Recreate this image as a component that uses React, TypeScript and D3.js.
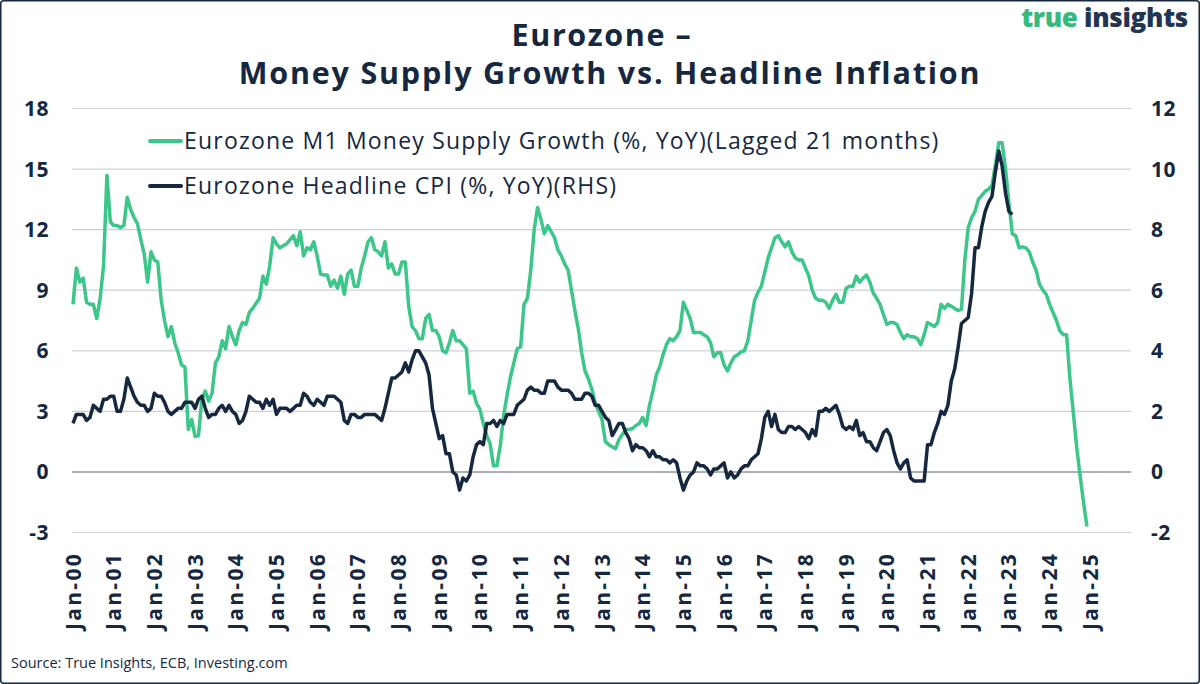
import React from "react";
import * as d3 from "d3";

// Eurozone M1 money supply growth (% YoY), lagged 21 months, monthly from Jan-2000
const M1_LAGGED: number[] = [
  // 2000
  8.3, 10.1, 9.4, 9.6, 8.4, 8.3, 8.3, 7.6, 8.6, 10.2, 14.7, 12.4,
  // 2001
  12.2, 12.2, 12.1, 12.2, 13.6, 13.0, 12.6, 12.3, 11.5, 10.8, 9.4, 10.9,
  // 2002
  10.5, 10.4, 8.5, 7.5, 6.7, 7.2, 6.4, 5.9, 5.3, 5.2, 2.1, 2.6,
  // 2003
  1.75, 1.8, 3.6, 4.0, 3.5, 3.9, 5.4, 5.7, 6.5, 6.1, 7.2, 6.7,
  // 2004
  6.3, 7.0, 7.4, 7.3, 7.9, 8.1, 8.35, 8.6, 9.7, 9.3, 10.2, 11.6,
  // 2005
  11.3, 11.1, 11.2, 11.3, 11.5, 11.7, 11.2, 11.9, 10.7, 11.1, 11.0, 11.4,
  // 2006
  10.7, 9.8, 9.75, 9.75, 9.2, 9.5, 9.1, 9.7, 8.8, 9.8, 10.0, 9.2,
  // 2007
  9.2, 10.1, 10.7, 11.4, 11.6, 11.0, 10.9, 10.7, 11.4, 10.1, 10.3, 9.8,
  // 2008
  9.8, 10.4, 10.4, 8.2, 7.2, 7.0, 6.6, 6.6, 7.6, 7.8, 7.0, 7.0,
  // 2009
  6.7, 6.0, 5.9, 6.4, 7.0, 6.5, 6.5, 6.3, 6.1, 3.9, 4.0, 3.4,
  // 2010
  3.1, 2.4, 1.8, 1.4, 0.3, 0.3, 1.3, 2.8, 3.8, 4.7, 5.4, 6.1,
  // 2011
  6.2, 8.3, 8.6, 10.0, 12.0, 13.1, 12.5, 11.8, 12.2, 11.9, 11.6, 11.0,
  // 2012
  10.7, 10.3, 10.0, 9.0, 8.0, 7.1, 5.9, 5.0, 4.6, 4.1, 3.4, 3.0,
  // 2013
  2.6, 1.5, 1.35, 1.25, 1.15, 1.6, 1.85, 2.1, 2.1, 2.15, 2.3, 2.4,
  // 2014
  2.7, 2.3, 3.3, 4.0, 4.8, 5.2, 5.8, 6.3, 6.6, 6.5, 6.7, 7.0,
  // 2015
  8.4, 8.0, 7.6, 6.9, 6.9, 6.9, 6.8, 6.7, 6.4, 5.7, 5.9, 5.9,
  // 2016
  5.3, 5.0, 5.4, 5.7, 5.8, 5.95, 6.0, 6.5, 7.5, 8.5, 8.9, 9.2,
  // 2017
  9.9, 10.6, 11.1, 11.6, 11.7, 11.4, 11.15, 11.4, 10.9, 10.6, 10.5, 10.5,
  // 2018
  10.1, 9.7, 9.0, 8.6, 8.5, 8.5, 8.4, 8.1, 8.5, 8.8, 8.4, 8.4,
  // 2019
  9.1, 9.2, 9.2, 9.7, 9.4, 9.6, 9.75, 9.4, 8.85, 8.6, 8.3, 7.8,
  // 2020
  7.3, 7.4, 7.4, 7.3, 6.9, 6.6, 6.8, 6.7, 6.7, 6.6, 6.3, 6.8,
  // 2021
  7.4, 7.3, 7.2, 7.4, 8.3, 8.1, 8.3, 8.2, 8.1, 8.0, 8.05, 10.5,
  // 2022
  12.1, 12.6, 12.9, 13.5, 13.7, 13.9, 14.0, 14.2, 15.2, 16.3, 16.3, 15.0,
  // 2023
  13.3, 11.8, 11.7, 11.1, 11.15, 11.1, 10.9, 10.4, 10.0, 9.3, 9.0, 8.8,
  // 2024
  8.3, 7.9, 7.5, 7.0, 6.8, 6.8, 4.6, 2.9, 1.2, -0.2, -1.5, -2.7,
];

// Eurozone headline CPI (% YoY), monthly from Jan-2000 (right axis)
const CPI: number[] = [
  1.6, 1.9, 1.9, 1.9, 1.7, 1.8, 2.2, 2.1, 2.0, 2.4, 2.4, 2.5,
  2.5, 2.0, 2.0, 2.4, 3.1, 2.8, 2.5, 2.3, 2.2, 2.2, 2.0, 2.1,
  2.6, 2.5, 2.5, 2.3, 2.0, 1.9, 2.0, 2.1, 2.1, 2.3, 2.3, 2.3,
  2.1, 2.4, 2.5, 2.1, 1.8, 1.9, 1.9, 2.1, 2.2, 2.0, 2.2, 2.0,
  1.9, 1.6, 1.7, 2.0, 2.5, 2.4, 2.3, 2.3, 2.1, 2.4, 2.2, 2.4,
  1.9, 2.1, 2.1, 2.1, 2.0, 2.1, 2.2, 2.2, 2.6, 2.5, 2.3, 2.2,
  2.4, 2.3, 2.2, 2.5, 2.5, 2.5, 2.4, 2.3, 1.7, 1.6, 1.9, 1.9,
  1.8, 1.8, 1.9, 1.9, 1.9, 1.9, 1.8, 1.7, 2.1, 2.6, 3.1, 3.1,
  3.2, 3.3, 3.6, 3.3, 3.7, 4.0, 4.0, 3.8, 3.6, 3.2, 2.1, 1.6,
  1.1, 1.2, 0.6, 0.6, 0.0, -0.1, -0.6, -0.2, -0.3, -0.1, 0.5, 0.9,
  1.0, 0.9, 1.6, 1.6, 1.7, 1.5, 1.7, 1.6, 1.9, 1.9, 1.9, 2.2,
  2.3, 2.4, 2.7, 2.8, 2.7, 2.7, 2.6, 2.6, 3.0, 3.0, 3.0, 2.8,
  2.7, 2.7, 2.7, 2.6, 2.4, 2.4, 2.4, 2.6, 2.6, 2.5, 2.2, 2.2,
  2.0, 1.8, 1.7, 1.2, 1.4, 1.6, 1.6, 1.3, 1.1, 0.7, 0.9, 0.8,
  0.8, 0.7, 0.5, 0.7, 0.5, 0.5, 0.4, 0.4, 0.3, 0.4, 0.3, -0.2,
  -0.6, -0.3, -0.1, 0.0, 0.3, 0.2, 0.2, 0.1, -0.1, 0.1, 0.1, 0.2,
  0.3, -0.2, 0.0, -0.2, -0.1, 0.1, 0.2, 0.2, 0.4, 0.5, 0.6, 1.1,
  1.8, 2.0, 1.5, 1.9, 1.4, 1.3, 1.3, 1.5, 1.5, 1.4, 1.5, 1.4,
  1.3, 1.1, 1.4, 1.2, 2.0, 2.0, 2.1, 2.0, 2.1, 2.2, 1.9, 1.5,
  1.4, 1.5, 1.4, 1.7, 1.2, 1.3, 1.0, 1.0, 0.8, 0.7, 1.0, 1.3,
  1.4, 1.2, 0.7, 0.3, 0.1, 0.3, 0.4, -0.2, -0.3, -0.3, -0.3, -0.3,
  0.9, 0.9, 1.3, 1.6, 2.0, 1.9, 2.2, 3.0, 3.4, 4.1, 4.9, 5.0,
  5.1, 5.9, 7.4, 7.4, 8.1, 8.6, 8.9, 9.1, 9.9, 10.6, 10.1, 9.2,
  8.6, 8.5,
];

const YEAR_LABELS: string[] = [
  "Jan-00", "Jan-01", "Jan-02", "Jan-03", "Jan-04", "Jan-05", "Jan-06",
  "Jan-07", "Jan-08", "Jan-09", "Jan-10", "Jan-11", "Jan-12", "Jan-13",
  "Jan-14", "Jan-15", "Jan-16", "Jan-17", "Jan-18", "Jan-19", "Jan-20",
  "Jan-21", "Jan-22", "Jan-23", "Jan-24", "Jan-25",
];
const LEFT_TICKS: number[] = [-3, 0, 3, 6, 9, 12, 15, 18];
const RIGHT_TICKS: number[] = [-2, 0, 2, 4, 6, 8, 10, 12];

const SERIES_NAMES: string[] = [
  "Eurozone M1 Money Supply Growth (%, YoY)(Lagged 21 months)",
  "Eurozone Headline CPI (%, YoY)(RHS)",
];

const GREEN = "#3cc68a";
const NAVY = "#15283f";
const FONT = "'Open Sans', sans-serif";

export default function App() {
  const W = 1200;
  const H = 684;
  const x = d3.scaleLinear().domain([0, 312]).range([73, 1131]);
  const yL = d3.scaleLinear().domain([-3, 18]).range([532.5, 108.5]);
  const yR = d3.scaleLinear().domain([-2, 12]).range([532.5, 108.5]);

  const lineL = d3
    .line<number>()
    .x((_, i) => x(i))
    .y((d) => yL(d));
  const lineR = d3
    .line<number>()
    .x((_, i) => x(i))
    .y((d) => yR(d));

  return (
    <div style={{ position: "absolute", left: 0, top: 0 }}>
      <svg width={W} height={H} style={{ display: "block", background: "#fff" }}>
        <rect x={0.75} y={0.75} width={W - 1.5} height={H - 1.5} rx={3} fill="#fff" stroke={NAVY} strokeWidth={1.5} />

        {/* Title */}
        <text x={602} y={46} textAnchor="middle" fontFamily={FONT} fontWeight={700} fontSize={30.5} letterSpacing={1.6} fill={NAVY}>
          Eurozone –
        </text>
        <text x={610} y={84} textAnchor="middle" fontFamily={FONT} fontWeight={700} fontSize={30.5} letterSpacing={1.8} fill={NAVY}>
          Money Supply Growth vs. Headline Inflation
        </text>

        {/* Logo */}
        <text x={1188} y={27} textAnchor="end" fontFamily={FONT} fontWeight={800} fontSize={26} letterSpacing={-0.3}>
          <tspan fill="#35b97c">true </tspan>
          <tspan fill="#1f3552">insights</tspan>
        </text>

        {/* Gridlines */}
        {LEFT_TICKS.map((t) => (
          <line
            key={"g" + t}
            x1={72}
            x2={1131}
            y1={yL(t)}
            y2={yL(t)}
            stroke={t === 0 ? "#8e97a3" : "#cdd1d7"}
            strokeWidth={t === 0 ? 1.5 : 1.2}
          />
        ))}

        {/* Left axis labels */}
        {LEFT_TICKS.map((t) => (
          <text key={"l" + t} x={49} y={yL(t) + 7.5} textAnchor="end" fontFamily={FONT} fontWeight={700} fontSize={21} letterSpacing={0.5} fill={NAVY}>
            {t < 0 ? "-" + Math.abs(t) : t}
          </text>
        ))}
        {/* Right axis labels */}
        {RIGHT_TICKS.map((t) => (
          <text key={"r" + t} x={1151} y={yR(t) + 7.5} textAnchor="start" fontFamily={FONT} fontWeight={700} fontSize={21} letterSpacing={0.5} fill={NAVY}>
            {t < 0 ? "-" + Math.abs(t) : t}
          </text>
        ))}

        {/* X labels */}
        {YEAR_LABELS.map((lab, i) => (
          <text
            key={lab}
            transform={`translate(${x(i * 12) + 7.5},552) rotate(-90)`}
            textAnchor="end"
            fontFamily={FONT}
            fontWeight={700}
            fontSize={21}
            letterSpacing={2.3}
            fill={NAVY}
          >
            {lab}
          </text>
        ))}

        {/* Series */}
        <path d={lineL(M1_LAGGED) || ""} fill="none" stroke={GREEN} strokeWidth={3.5} strokeLinejoin="round" />
        <path d={lineR(CPI) || ""} fill="none" stroke={NAVY} strokeWidth={3.5} strokeLinejoin="round" />

        {/* Legend */}
        <line x1={150} x2={181} y1={141} y2={141} stroke={GREEN} strokeWidth={4} strokeLinecap="round" />
        <text x={184} y={149} fontFamily={FONT} fontSize={23} letterSpacing={1.2} fill={NAVY}>
          {SERIES_NAMES[0]}
        </text>
        <line x1={150} x2={181} y1={186} y2={186} stroke={NAVY} strokeWidth={4} strokeLinecap="round" />
        <text x={184} y={194} fontFamily={FONT} fontSize={23} letterSpacing={1.2} fill={NAVY}>
          {SERIES_NAMES[1]}
        </text>

        {/* Source */}
        <text x={11} y={668} fontFamily={FONT} fontSize={14.5} fill={NAVY}>
          Source: True Insights, ECB, Investing.com
        </text>
      </svg>
    </div>
  );
}
